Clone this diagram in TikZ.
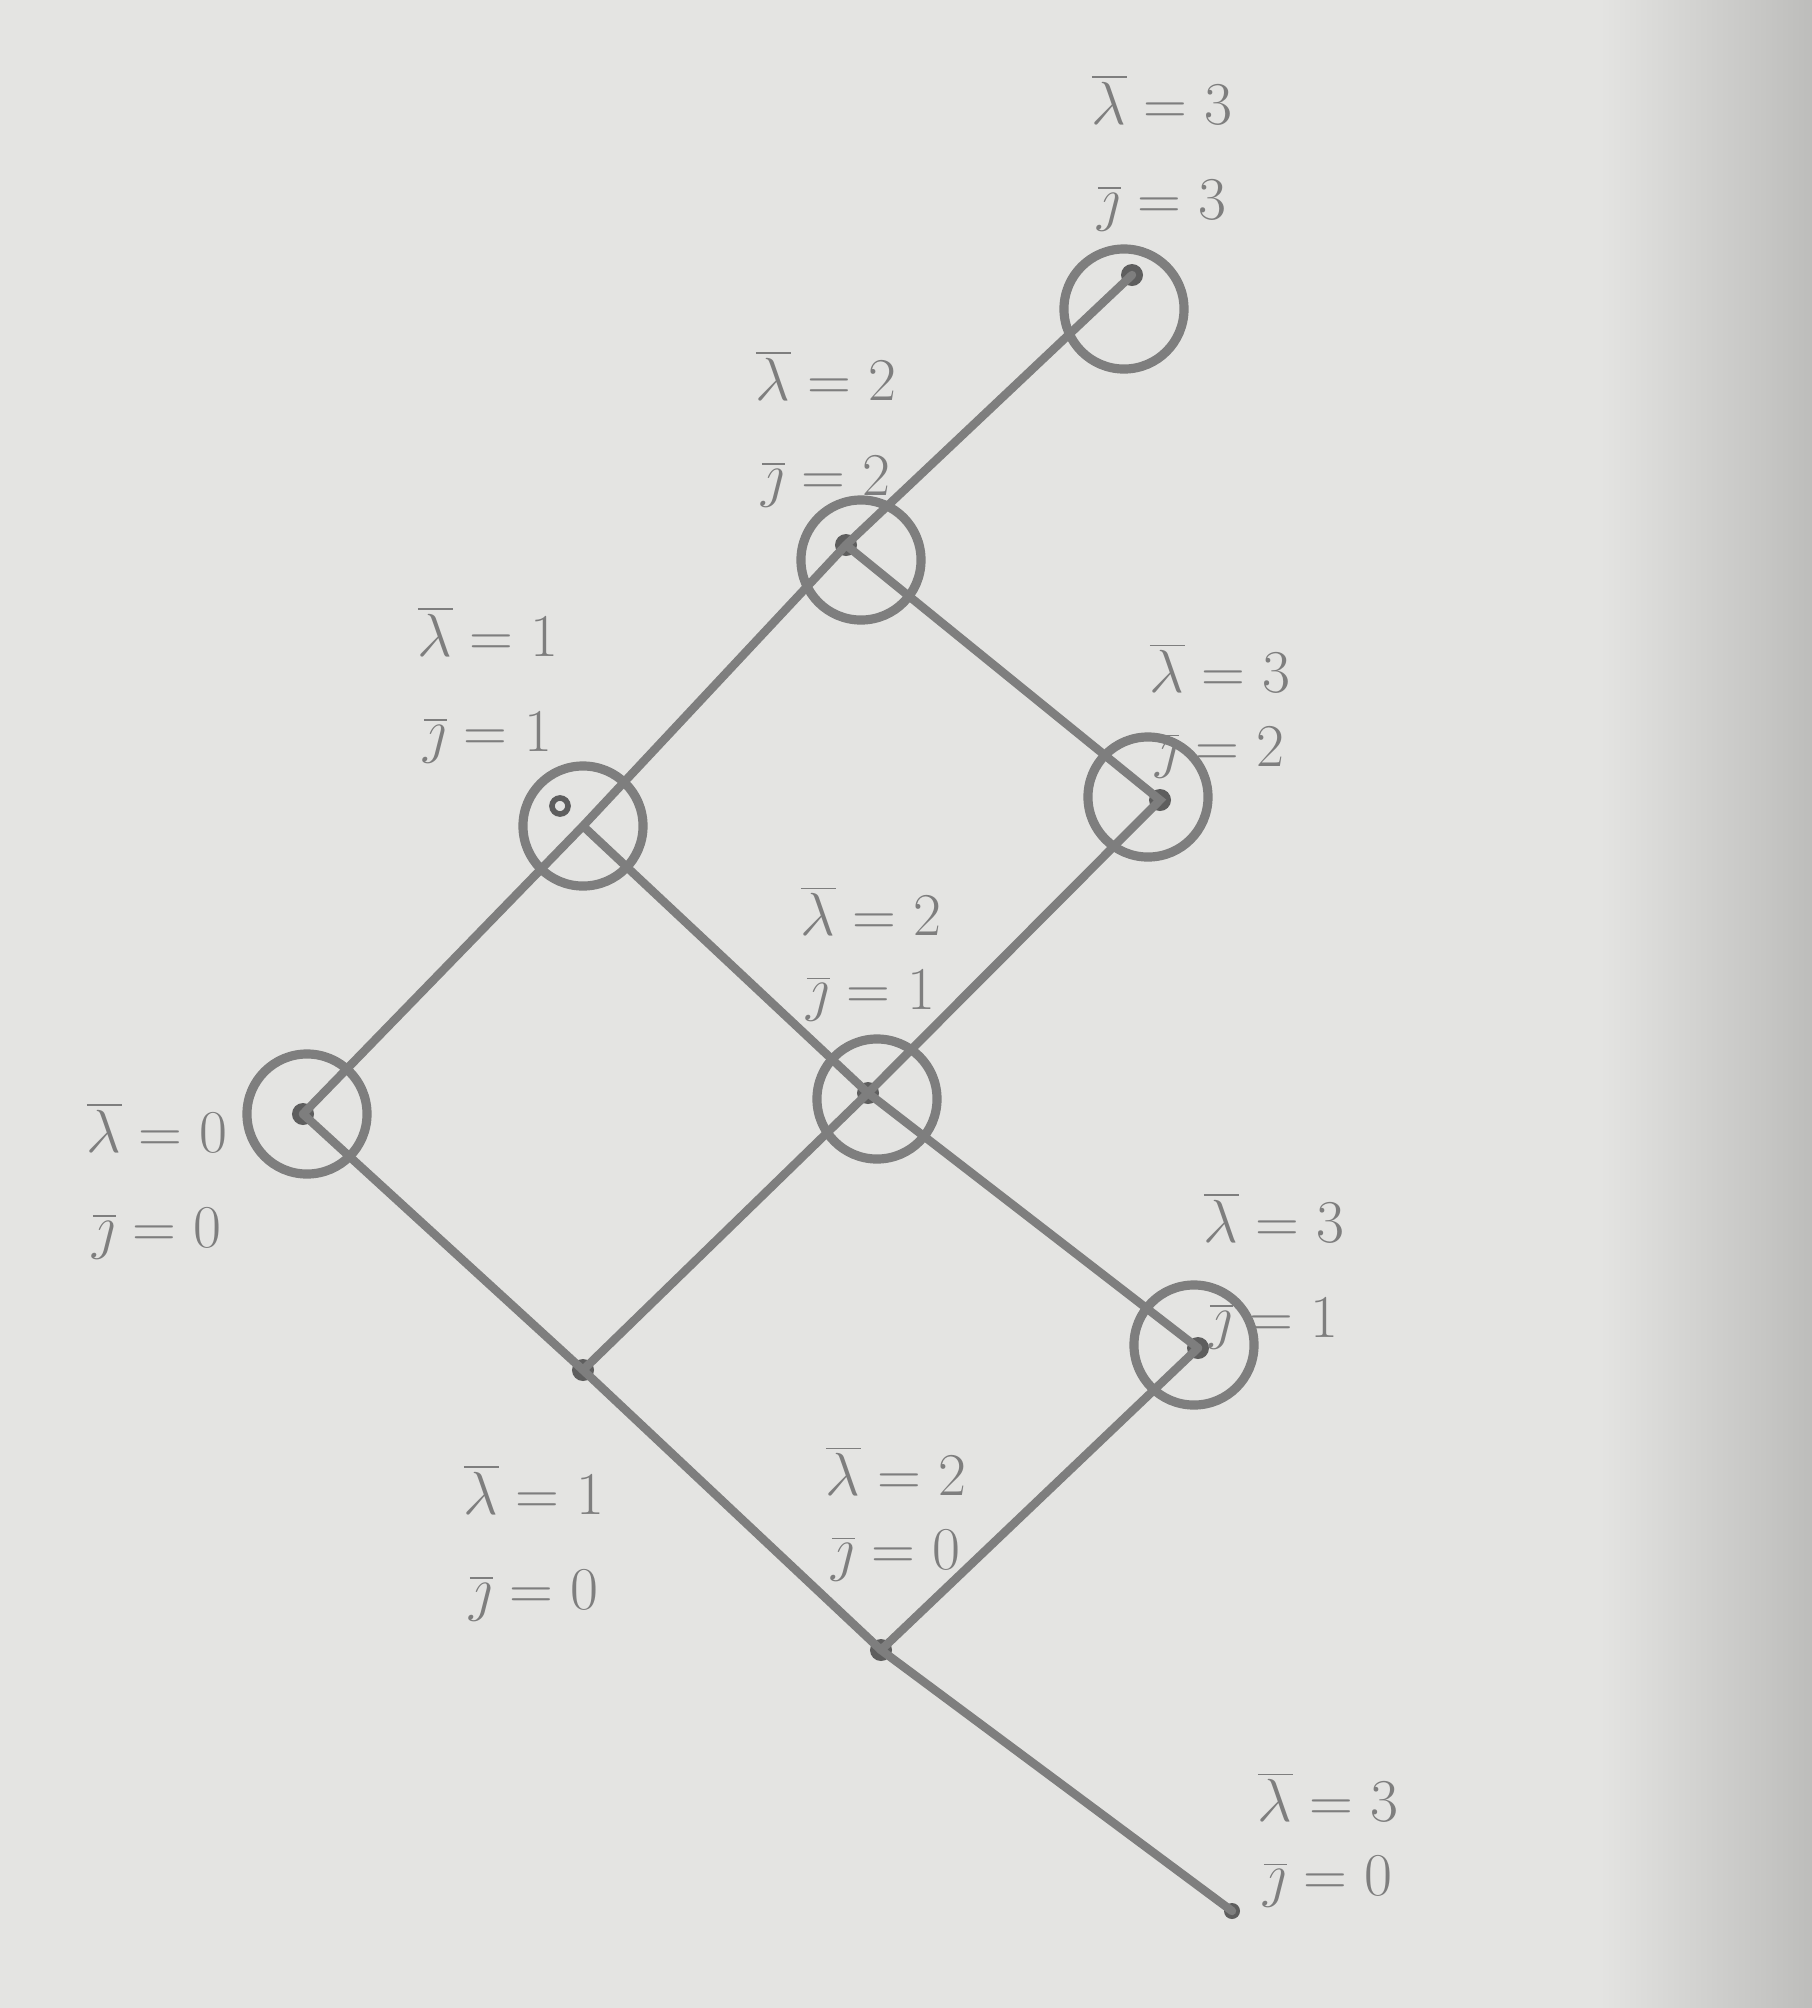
\documentclass[tikz,border=0pt]{standalone}
\usetikzlibrary{calc}
\definecolor{paper}{HTML}{E4E4E2}
\definecolor{shadow}{HTML}{BDBDBB}
\definecolor{pencil}{HTML}{7E7E7E}
\definecolor{pencildark}{HTML}{5E5E5E}
\newcommand{\lj}[2]{$\overline{\lambda}=#1$\\$\overline{\jmath}=#2$}
\begin{document}
\begin{tikzpicture}[x=0.01cm,y=-0.01cm,
  edge/.style={draw=pencil,line width=2.4pt,line cap=round},
  ring/.style={circle,draw=pencil,line width=2.6pt,minimum size=1.2cm,inner sep=0pt},
  pt/.style={circle,fill=pencildark,minimum size=0.22cm,inner sep=0pt},
  lab/.style={text=pencil,align=center,inner sep=0pt,font=\fontsize{18}{27}\selectfont},
  labtight/.style={lab,font=\fontsize{18}{21}\selectfont}]
\fill[paper] (0,0) rectangle (1812,2008);
\shade[left color=paper,right color=shadow] (1600,0) rectangle (1812,2008);
\useasboundingbox (0,0) rectangle (1812,2008);
% lattice points
\node[pt] (n00) at (303,1114) {};
\node[circle,draw=pencildark,line width=1.6pt,minimum size=0.16cm,inner sep=0pt] (n11) at (560,806) {};
\node[pt] (n22) at (846,545) {};
\node[pt] (n33) at (1132,275) {};
\node[pt] (n32) at (1160,800) {};
\node[pt] (n21) at (868,1093) {};
\node[pt] (n31) at (1198,1348) {};
\node[pt] (n10) at (583,1370) {};
\node[pt] (n20) at (881,1650) {};
\node[pt,minimum size=0.16cm] (n30) at (1232,1911) {};
% rings
\node[ring] (r00) at (307,1114) {};
\node[ring] (r11) at (583,826) {};
\node[ring] (r22) at (861,560) {};
\node[ring] (r33) at (1124,309) {};
\node[ring] (r32) at (1148,797) {};
\node[ring] (r21) at (877,1099) {};
\node[ring] (r31) at (1194,1345) {};
% edges
\draw[edge] (n00.center) -- (r11.center) -- (n22.center) -- (n33.center);
\draw[edge] (n22.center) -- (n32.center) -- (n21.center);
\draw[edge] (r11.center) -- (n21.center) -- (n31.center);
\draw[edge] (n00.center) -- (n10.center) -- (n20.center) -- (n30.center);
\draw[edge] (n10.center) -- (n21.center);
\draw[edge] (n20.center) -- (n31.center);
% labels
\node[lab] (l33) at (1162,153) {\lj{3}{3}};
\node[lab] (l22) at (826,429) {\lj{2}{2}};
\node[lab] (l11) at (488,685) {\lj{1}{1}};
\node[labtight] (l32) at (1220,711) {\lj{3}{2}};
\node[labtight] (l21) at (871,954) {\lj{2}{1}};
\node[lab] (l00) at (157,1181) {\lj{0}{0}};
\node[lab] (l31) at (1274,1271) {\lj{3}{1}};
\node[lab] (l10) at (534,1543) {\lj{1}{0}};
\node[labtight] (l20) at (896,1514) {\lj{2}{0}};
\node[labtight] (l30) at (1328,1840) {\lj{3}{0}};
\end{tikzpicture}
\end{document}
